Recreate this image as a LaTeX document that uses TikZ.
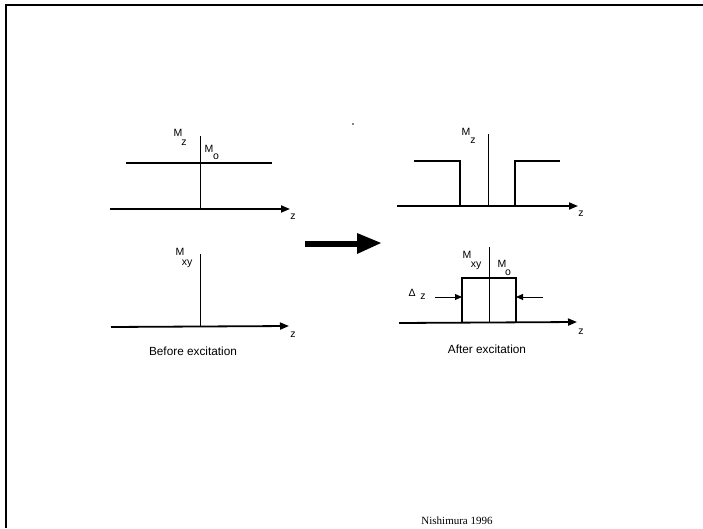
\documentclass[tikz,border=0pt]{standalone}
\usepackage{fontspec}
\setmainfont{Liberation Sans}
\newfontfamily\seriffont{Liberation Serif}
\usetikzlibrary{arrows.meta}
\tikzset{
  thick axis/.style={line width=1.8pt,-{Triangle[length=9pt,width=7pt]}},
  prof/.style={line width=1.8pt},
  thinax/.style={line width=1pt},
  lbl/.style={inner sep=0pt,font=\fontsize{10.5}{11}\selectfont},
  captxt/.style={inner sep=0pt,font=\fontsize{11.8}{13}\selectfont},
  ptr/.style={line width=1pt,-{Triangle[length=7pt,width=6pt]}}
}
\begin{document}
\begin{tikzpicture}[x=1pt,y=1pt]
\useasboundingbox (0,0) rectangle (703,528);
% frame
\draw[line width=2pt] (5.5,0) -- (5.5,522.5) -- (703,522.5);
% stray dot
\fill (353,404) circle (0.9pt);

% ---- top left: Mz before
\coordinate (tlA) at (110,319); \coordinate (tlB) at (290,319);
\draw[thick axis] (tlA) -- (tlB);
\coordinate (tlV1) at (200,392); \coordinate (tlV2) at (200,319);
\draw[thinax] (tlV1) -- (tlV2);
\coordinate (tlM1) at (126,365); \coordinate (tlM2) at (272,365);
\draw[prof] (tlM1) -- (tlM2);
\node[lbl] (tlMz) at (178,395) {M};
\node[lbl] (tlMzs) at (184,385) {z};
\node[lbl] (tlMo) at (209,379) {M};
\node[lbl] (tlMos) at (216,371) {o};
\node[lbl] (tlz) at (293,311) {z};

% ---- bottom left: Mxy before
\coordinate (blA) at (111,201); \coordinate (blB) at (289,202);
\draw[thick axis] (blA) -- (blB);
\coordinate (blV1) at (200,274); \coordinate (blV2) at (200,201.5);
\draw[thinax] (blV1) -- (blV2);
\node[lbl] (blM) at (180,276) {M};
\node[lbl] (blMs) at (187,264) {xy};
\node[lbl] (blz) at (293,193) {z};
\node[captxt] (before) at (193,177) {Before excitation};

% ---- big arrow
\fill (305,281.5) rectangle (358,287.5);
\fill (357,295) -- (381,285) -- (357,274) -- cycle;

% ---- top right: Mz after
\coordinate (trA) at (397,322); \coordinate (trB) at (578,322);
\draw[thick axis] (trA) -- (trB);
\coordinate (trV1) at (488,394); \coordinate (trV2) at (488,322);
\draw[thinax] (trV1) -- (trV2);
\draw[prof] (414,367) -- (460,367) -- (460,322) -- (515,322) -- (515,367) -- (560,367);
\node[lbl] (trM) at (466,396) {M};
\node[lbl] (trMs) at (473,387) {z};
\node[lbl] (trz) at (581,314) {z};

% ---- bottom right: Mxy after
\coordinate (brA) at (399,205); \coordinate (brB) at (577,206);
\draw[thick axis] (brA) -- (brB);
\draw[prof] (462,205) -- (462,250) -- (516,250) -- (516,205);
\coordinate (brV1) at (489,281); \coordinate (brV2) at (489,205);
\draw[thinax] (brV1) -- (brV2);
\node[lbl] (brM) at (467,273) {M};
\node[lbl] (brMs) at (476,262) {xy};
\node[lbl] (brMo) at (502,264) {M};
\node[lbl] (brMos) at (508,255) {o};
\node[lbl] (dl) at (412,235) {Δ};
\node[lbl] (dz) at (423,231) {z};
\coordinate (lp1) at (435,231); \coordinate (lp2) at (462,231);
\coordinate (rp1) at (543,231); \coordinate (rp2) at (516,231);
\draw[ptr] (lp1) -- (lp2);
\draw[ptr] (rp1) -- (rp2);
\node[lbl] (brz) at (581,196) {z};
\node[captxt] (after) at (487,179) {After excitation};

% ---- credit
\node[inner sep=0pt,font=\seriffont\fontsize{11}{12}\selectfont] (credit) at (457,7) {Nishimura 1996};
\end{tikzpicture}
\end{document}
